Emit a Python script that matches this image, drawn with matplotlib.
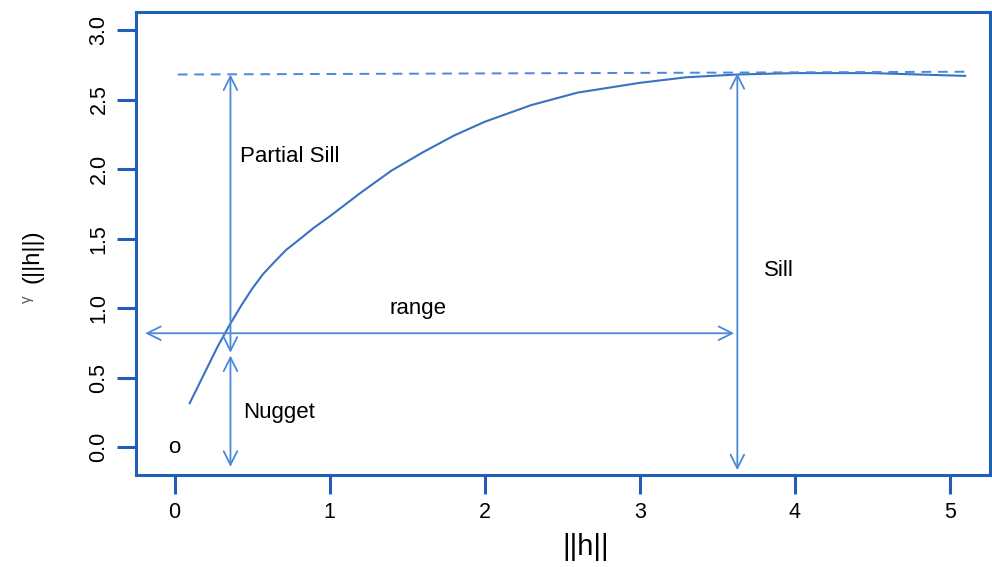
import matplotlib.pyplot as plt

plt.rcParams['font.family'] = ['Liberation Sans', 'DejaVu Sans']

# semivariogram curve
h = [0.097, 0.2, 0.28, 0.36, 0.43, 0.5, 0.57, 0.65, 0.72, 0.8, 0.9, 1.0, 1.2, 1.4,
     1.6, 1.8, 2.0, 2.3, 2.6, 3.0, 3.3, 3.63, 4.0, 4.5, 5.1]
gamma = [0.317, 0.55, 0.73, 0.89, 1.02, 1.14, 1.245, 1.34, 1.42, 1.49, 1.58, 1.66,
         1.83, 1.99, 2.12, 2.24, 2.34, 2.46, 2.55, 2.62, 2.66, 2.68, 2.69, 2.69, 2.67]

sill_x = [0.02, 5.13]
sill_y = [2.68, 2.70]

x_ticks = [0, 1, 2, 3, 4, 5]
y_ticks = [0.0, 0.5, 1.0, 1.5, 2.0, 2.5, 3.0]
y_tick_labels = ['0.0', '0.5', '1.0', '1.5', '2.0', '2.5', '3.0']

box_col = '#1f5fb8'
curve_col = '#3a72c2'
arrow_col = '#4a88dc'

fig = plt.figure(figsize=(9.92, 5.67), dpi=100)
ax = fig.add_axes([0.137, 0.162, 0.861, 0.817])

ax.plot(h, gamma, color=curve_col, lw=1.5, solid_joinstyle='round')
ax.plot(sill_x, sill_y, color=arrow_col, lw=1.4, linestyle=(0, (5, 3.5)))

aprops = dict(arrowstyle='<->,head_length=0.7,head_width=0.35', mutation_scale=14,
              color=arrow_col, lw=1.3, shrinkA=0, shrinkB=0)
# partial sill
ax.annotate('', xy=(0.36, 2.68), xytext=(0.36, 0.68), arrowprops=aprops)
# nugget
ax.annotate('', xy=(0.36, 0.66), xytext=(0.36, -0.14), arrowprops=aprops)
# range
ax.annotate('', xy=(-0.19, 0.82), xytext=(3.61, 0.82), arrowprops=aprops)
# sill
ax.annotate('', xy=(3.63, 2.69), xytext=(3.63, -0.165), arrowprops=aprops)

ax.text(0.42, 2.09, 'Partial Sill', fontsize=16, va='center', ha='left')
ax.text(1.57, 1.0, 'range', fontsize=16, va='center', ha='center')
ax.text(3.8, 1.27, 'Sill', fontsize=16, va='center', ha='left')
ax.text(0.44, 0.25, 'Nugget', fontsize=16, va='center', ha='left')
ax.text(0.0, 0.0, 'o', fontsize=16, va='center', ha='center')

ax.set_xlim(-0.25, 5.26)
ax.set_ylim(-0.2, 3.13)

ax.set_xticks(x_ticks)
ax.set_yticks(y_ticks)
ax.set_yticklabels(y_tick_labels, rotation=90, va='center')
ax.tick_params(axis='both', direction='out', length=14, width=2.2, color=box_col,
               labelsize=15.5)
ax.tick_params(axis='x', pad=5)
ax.tick_params(axis='y', pad=5)

for sp in ax.spines.values():
    sp.set_color(box_col)
    sp.set_linewidth(2.2)

fig.text(0.59, 0.035, '||h||', fontsize=21, ha='center', va='center')
fig.text(0.033, 0.548, '(||h||)', fontsize=17, rotation=90, ha='center', va='center')
fig.text(0.027, 0.472, 'γ', fontsize=11, rotation=90, ha='center', va='center', color='#555555')

fig.savefig('out.png', dpi=100)
